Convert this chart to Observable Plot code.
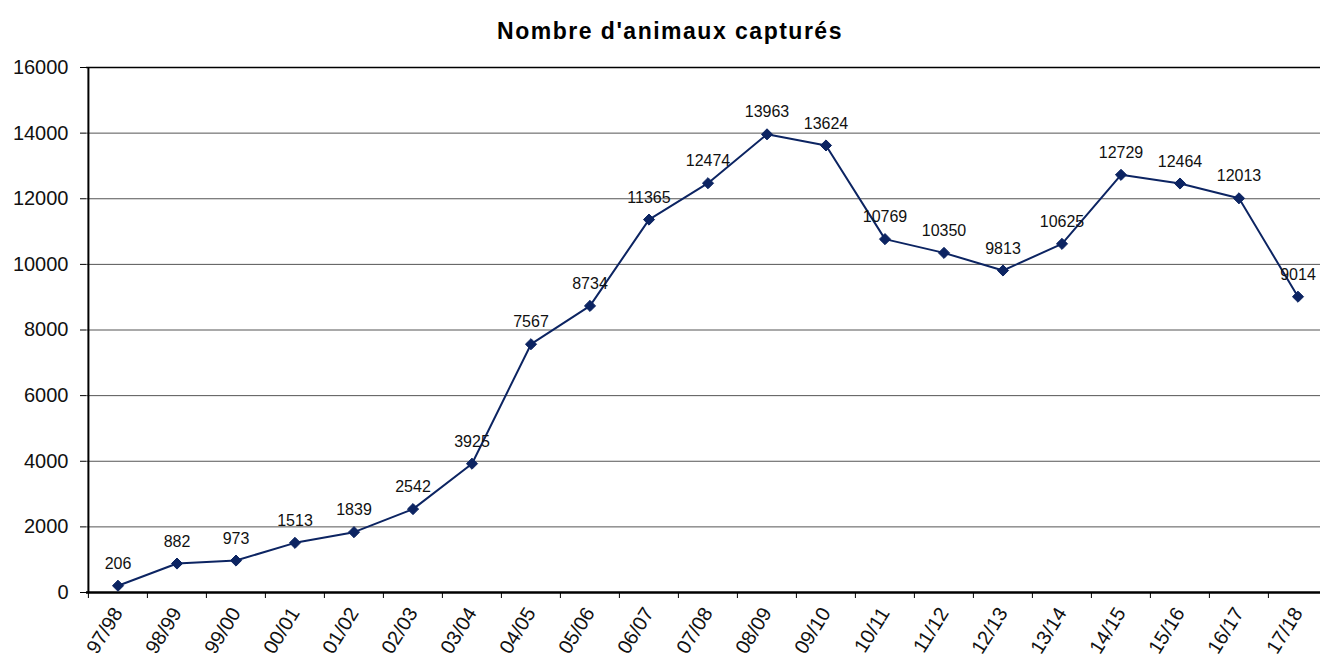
<!DOCTYPE html>
<html>
<head>
<meta charset="utf-8">
<script src="https://cdn.jsdelivr.net/npm/d3@7"></script>
<script src="https://cdn.jsdelivr.net/npm/@observablehq/plot@0.6"></script>
<style>
  html, body { margin: 0; padding: 0; background: #fff; overflow: hidden; }
  #title { height: 50px; line-height: 62px; text-align: center; font-family: "Liberation Sans", Arial, sans-serif; font-weight: bold; font-size: 23px; letter-spacing: 1.5px; color: #000; padding-left: 20px; }
</style>
</head>
<body>
<div id="title">Nombre d'animaux capturés</div>
<div id="chart"></div>
<script>
const seasons = ["97/98","98/99","99/00","00/01","01/02","02/03","03/04","04/05","05/06","06/07","07/08","08/09","09/10","10/11","11/12","12/13","13/14","14/15","15/16","16/17","17/18"];
const captures = [206, 882, 973, 1513, 1839, 2542, 3925, 7567, 8734, 11365, 12474, 13963, 13624, 10769, 10350, 9813, 10625, 12729, 12464, 12013, 9014];
const yTicks = [0, 2000, 4000, 6000, 8000, 10000, 12000, 14000, 16000];

const data = seasons.map((s, i) => ({season: s, value: captures[i]}));

const W = 1320, H = 610;
const xRange = [86, 1329];
const bw = (xRange[1] - xRange[0]) / seasons.length;
const font = '"Liberation Sans", Arial, sans-serif';
const navy = "#0c2462";

const chart = Plot.plot({
  width: W,
  height: H,
  marginLeft: 86,
  marginRight: 0,
  marginTop: 17,
  marginBottom: 68,
  style: {fontFamily: font, background: "#fff", overflow: "hidden"},
  x: {type: "band", domain: seasons, range: xRange, padding: 0},
  y: {domain: [0, 16000], ticks: yTicks},
  marks: [
    Plot.gridY(yTicks.filter(t => t > 0 && t < 16000), {stroke: "#555", strokeOpacity: 1, strokeWidth: 1}),
    Plot.ruleY([16000], {stroke: "#000", strokeWidth: 1.5}),
    Plot.axisY(yTicks, {tickSize: 6, tickPadding: 12, fontSize: 20, fill: "#111", stroke: "#000", tickFormat: d => String(d), label: null}),
    Plot.axisX({tickSize: 6, dx: -bw / 2, tickFormat: () => "", stroke: "#000", label: null}),
    Plot.axisX({tickSize: 0, tickPadding: 17, tickRotate: -58, fontSize: 20, fill: "#111", label: null}),
    Plot.ruleX([0], {x: () => seasons[0], dx: -bw / 2, stroke: "#000", strokeWidth: 2}),
    Plot.ruleY([0], {stroke: "#000", strokeWidth: 2.5}),
    Plot.line(data, {x: "season", y: "value", stroke: navy, strokeWidth: 2}),
    Plot.dot(data, {x: "season", y: "value", symbol: "diamond2", r: 5, fill: navy, stroke: navy, strokeWidth: 1}),
    Plot.text(data, {x: "season", y: "value", text: d => String(d.value), dy: -22, fontSize: 16, fill: "#111"})
  ]
});
document.getElementById("chart").appendChild(chart);
</script>
</body>
</html>
